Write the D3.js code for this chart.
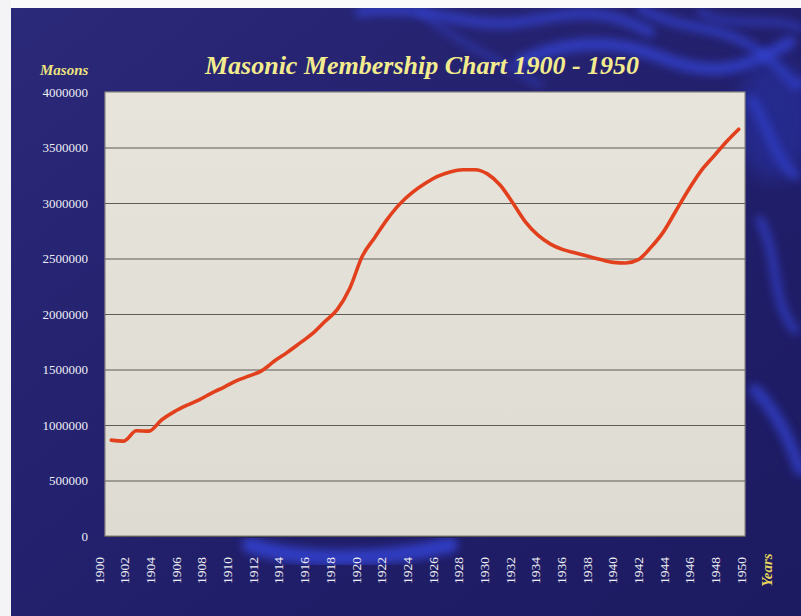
<!DOCTYPE html>
<html><head><meta charset="utf-8">
<script src="https://cdn.jsdelivr.net/npm/d3@7"></script>
<style>
html,body{margin:0;padding:0;background:#fff;}
svg{display:block;}
</style></head>
<body>
<script>
const years = [1900,1901,1902,1903,1904,1905,1906,1907,1908,1909,
  1910,1911,1912,1913,1914,1915,1916,1917,1918,1919,
  1920,1921,1922,1923,1924,1925,1926,1927,1928,1929,
  1930,1931,1932,1933,1934,1935,1936,1937,1938,1939,
  1940,1941,1942,1943,1944,1945,1946,1947,1948,1949,1950];
const members = [864000,855000,948000,945000,1045000,1118000,1176000,1227000,1288000,1342000,
  1400000,1442000,1490000,1576000,1652000,1735000,1820000,1930000,2040000,2230000,
  2520000,2690000,2855000,2992000,3095000,3175000,3240000,3280000,3300000,3300000,
  3260000,3160000,3000000,2830000,2710000,2630000,2580000,2550000,2520000,2490000,
  2465000,2460000,2490000,2600000,2740000,2930000,3120000,3290000,3420000,3550000,3665000];
const yTicks = [0,500000,1000000,1500000,2000000,2500000,3000000,3500000,4000000];
const xLabels = [1900,1902,1904,1906,1908,1910,1912,1914,1916,1918,1920,1922,1924,1926,
  1928,1930,1932,1934,1936,1938,1940,1942,1944,1946,1948,1950];
const title = "Masonic Membership Chart 1900 - 1950";
const yTitle = "Masons";
const xTitle = "Years";

const W = 801, H = 616;
const plot = {left:105, right:745, top:92, bottom:536};
const serif = "'Liberation Serif', 'DejaVu Serif', serif";

const svg = d3.select("body").append("svg").attr("width",W).attr("height",H);
const defs = svg.append("defs");
const bg = defs.append("linearGradient").attr("id","bg").attr("x1",0).attr("y1",0).attr("x2",1).attr("y2",1);
bg.append("stop").attr("offset","0%").attr("stop-color","#2b2979");
bg.append("stop").attr("offset","55%").attr("stop-color","#221f6b");
bg.append("stop").attr("offset","100%").attr("stop-color","#1c1a60");
const pg = defs.append("linearGradient").attr("id","pg").attr("x1",0).attr("y1",0).attr("x2",0).attr("y2",1);
pg.append("stop").attr("offset","0%").attr("stop-color","#e7e4dc");
pg.append("stop").attr("offset","100%").attr("stop-color","#dedbd2");
defs.append("filter").attr("id","blur").attr("x","-50%").attr("y","-50%").attr("width","200%").attr("height","200%")
  .append("feGaussianBlur").attr("stdDeviation",4);
defs.append("filter").attr("id","blur2").attr("x","-50%").attr("y","-50%").attr("width","200%").attr("height","200%")
  .append("feGaussianBlur").attr("stdDeviation",10);

svg.append("rect").attr("width",W).attr("height",H).attr("fill","url(#bg)");

// background texture streaks (decorative)
const deco = svg.append("g").attr("fill","none").attr("stroke","#3444d8").attr("stroke-linecap","round");
const streaks = [
  {d:"M360,12 C420,2 470,30 520,22 S600,5 650,32", w:10, o:0.7},
  {d:"M520,62 C560,42 610,37 660,57 S740,72 790,42", w:12, o:0.75},
  {d:"M640,8 C680,32 720,22 760,52 S790,92 801,82", w:9, o:0.7},
  {d:"M700,12 C730,30 770,15 801,28", w:7, o:0.6},
  {d:"M752,100 C770,130 775,160 795,175", w:10, o:0.7},
  {d:"M760,220 C780,260 770,300 795,330", w:9, o:0.65},
  {d:"M755,390 C775,410 790,440 800,470", w:12, o:0.7},
  {d:"M250,545 C300,562 380,562 450,545", w:16, o:0.8},
  {d:"M420,10 C450,40 500,60 540,85", w:6, o:0.5}
];
streaks.forEach(s=>deco.append("path").attr("d",s.d).attr("stroke-width",s.w).attr("opacity",s.o).attr("filter","url(#blur)"));
svg.append("ellipse").attr("cx",775).attr("cy",120).attr("rx",40).attr("ry",60).attr("fill","#2c3bc0").attr("opacity",0.4).attr("filter","url(#blur2)");

// edge borders of the photo
svg.append("rect").attr("x",0).attr("y",0).attr("width",W).attr("height",8).attr("fill","#fafafa");
svg.append("rect").attr("x",0).attr("y",0).attr("width",11).attr("height",H).attr("fill","#f4f4f6");

const x = d3.scalePoint().domain(years).range([plot.left, plot.right]).padding(0.5);
const y = d3.scaleLinear().domain([0,4000000]).range([plot.bottom, plot.top]);
const xLab = d3.scalePoint().domain(xLabels).range([99, 741]);

// plot area
svg.append("rect").attr("x",plot.left).attr("y",plot.top)
  .attr("width",plot.right-plot.left).attr("height",plot.bottom-plot.top)
  .attr("fill","url(#pg)").attr("stroke","#8c8a84").attr("stroke-width",1.2);

// y axis with gridlines
const yAxis = svg.append("g").attr("transform",`translate(${plot.left},0)`)
  .call(d3.axisLeft(y).tickValues(yTicks).tickSize(-(plot.right-plot.left)).tickPadding(17).tickFormat(d3.format("d")));
yAxis.select(".domain").remove();
yAxis.selectAll(".tick line").attr("stroke","#5c5b56").attr("stroke-width",1.1)
  .attr("opacity",d=> d===4000000 ? 0 : 1);
yAxis.selectAll(".tick text").attr("fill","#eeeef4").attr("font-family",serif).attr("font-size",13);

// x labels
svg.append("g").selectAll("text").data(xLabels).join("text")
  .attr("transform",d=>`translate(${xLab(d)},557) rotate(-90)`)
  .attr("text-anchor","end").attr("dy","0.35em")
  .attr("fill","#eeeef4").attr("font-family",serif).attr("font-size",13.5)
  .text(d=>d);

// line
const line = d3.line().x((d,i)=>x(years[i])).y(d=>y(d)).curve(d3.curveMonotoneX);
svg.append("path").datum(members).attr("d",line).attr("fill","none")
  .attr("stroke","#e2401c").attr("stroke-width",3.6).attr("stroke-linejoin","round").attr("stroke-linecap","round");

// titles
svg.append("text").attr("x",422).attr("y",74).attr("text-anchor","middle")
  .attr("font-family",serif).attr("font-style","italic").attr("font-weight","bold")
  .attr("font-size",26).attr("fill","#f3ec8e").text(title);
svg.append("text").attr("x",40).attr("y",75)
  .attr("font-family",serif).attr("font-style","italic").attr("font-weight","bold")
  .attr("font-size",15).attr("fill","#ece37e").text(yTitle);
svg.append("text").attr("transform","translate(767,570) rotate(-90)").attr("text-anchor","middle").attr("dy","0.35em")
  .attr("font-family",serif).attr("font-style","italic").attr("font-weight","bold")
  .attr("font-size",15).attr("fill","#e4d65c").text(xTitle);
</script>
</body></html>
